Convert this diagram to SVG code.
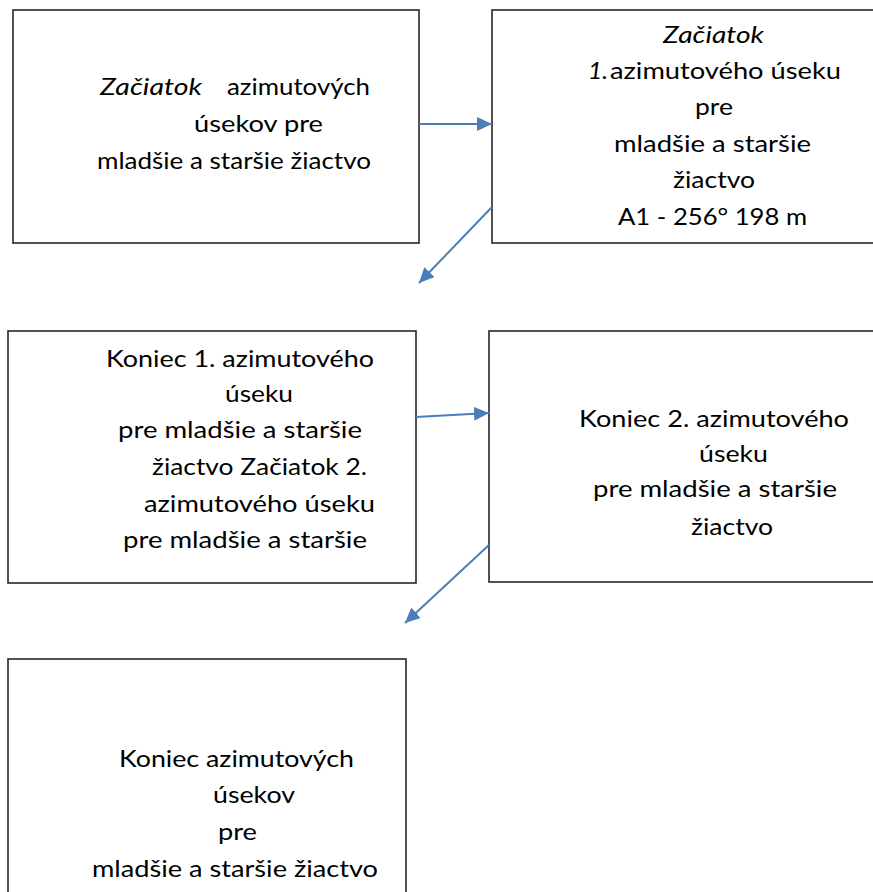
<svg xmlns="http://www.w3.org/2000/svg" width="873" height="892" viewBox="0 0 873 892">
<style>
.box{fill:#fff;stroke:#262626;stroke-width:1.6}
.t{font-family:Lato,"Open Sans","Liberation Sans",sans-serif;font-size:22.5px;fill:#000}
.i{font-style:italic}
.c{fill:none;stroke:#4a7ebb;stroke-width:2}
</style>
<defs>
<marker id="ah" markerUnits="userSpaceOnUse" markerWidth="16" markerHeight="14" refX="15" refY="7" orient="auto">
<path d="M0,0 L15,7 L0,14 Z" fill="#4a7ebb"/>
</marker>
</defs>
<rect width="873" height="892" fill="#fff"/>
<g id="n1">
<rect class="box" x="13" y="10" width="406" height="233"/>
<text class="t" y="95"><tspan class="i" x="100" textLength="102" lengthAdjust="spacingAndGlyphs">Začiatok</tspan><tspan x="227" textLength="143" lengthAdjust="spacingAndGlyphs">azimutových</tspan></text>
<text class="t" x="194" y="132" textLength="129" lengthAdjust="spacingAndGlyphs">úsekov pre</text>
<text class="t" x="97" y="169" textLength="274" lengthAdjust="spacingAndGlyphs">mladšie a staršie žiactvo</text>
</g>
<g id="n2">
<rect class="box" x="492" y="10" width="400" height="233"/>
<text class="t i" x="663" y="43" textLength="101" lengthAdjust="spacingAndGlyphs">Začiatok</text>
<text class="t" y="79"><tspan class="i" x="588" textLength="20" lengthAdjust="spacingAndGlyphs">1.</tspan><tspan x="610" textLength="231" lengthAdjust="spacingAndGlyphs">azimutového úseku</tspan></text>
<text class="t" x="695" y="115" textLength="38" lengthAdjust="spacingAndGlyphs">pre</text>
<text class="t" x="614" y="152" textLength="197" lengthAdjust="spacingAndGlyphs">mladšie a staršie</text>
<text class="t" x="673" y="188" textLength="82" lengthAdjust="spacingAndGlyphs">žiactvo</text>
<text class="t" x="618" y="225" textLength="189" lengthAdjust="spacingAndGlyphs">A1 - 256° 198 m</text>
</g>
<g id="n3">
<rect class="box" x="8" y="331" width="408" height="252"/>
<text class="t" x="106" y="367" textLength="268" lengthAdjust="spacingAndGlyphs">Koniec 1. azimutového</text>
<text class="t" x="225" y="402" textLength="68" lengthAdjust="spacingAndGlyphs">úseku</text>
<text class="t" x="118" y="438" textLength="244" lengthAdjust="spacingAndGlyphs">pre mladšie a staršie</text>
<text class="t" x="152" y="475" textLength="215" lengthAdjust="spacingAndGlyphs">žiactvo Začiatok 2.</text>
<text class="t" x="144" y="512" textLength="231" lengthAdjust="spacingAndGlyphs">azimutového úseku</text>
<text class="t" x="123" y="548" textLength="244" lengthAdjust="spacingAndGlyphs">pre mladšie a staršie</text>
</g>
<g id="n4">
<rect class="box" x="489" y="331" width="400" height="251"/>
<text class="t" x="579" y="427" textLength="270" lengthAdjust="spacingAndGlyphs">Koniec 2. azimutového</text>
<text class="t" x="699" y="462" textLength="69" lengthAdjust="spacingAndGlyphs">úseku</text>
<text class="t" x="593" y="497" textLength="244" lengthAdjust="spacingAndGlyphs">pre mladšie a staršie</text>
<text class="t" x="691" y="535" textLength="82" lengthAdjust="spacingAndGlyphs">žiactvo</text>
</g>
<g id="n5">
<rect class="box" x="8" y="659" width="398" height="250"/>
<text class="t" x="119" y="767" textLength="235" lengthAdjust="spacingAndGlyphs">Koniec azimutových</text>
<text class="t" x="213" y="803" textLength="82" lengthAdjust="spacingAndGlyphs">úsekov</text>
<text class="t" x="218" y="840" textLength="39" lengthAdjust="spacingAndGlyphs">pre</text>
<text class="t" x="92" y="877" textLength="286" lengthAdjust="spacingAndGlyphs">mladšie a staršie žiactvo</text>
</g>
<g id="connectors">
<line class="c" x1="419" y1="124" x2="492" y2="124" marker-end="url(#ah)"/>
<line class="c" x1="492" y1="207" x2="419" y2="283" marker-end="url(#ah)"/>
<line class="c" x1="416" y1="417" x2="489" y2="413" marker-end="url(#ah)"/>
<line class="c" x1="489" y1="545" x2="405" y2="623" marker-end="url(#ah)"/>
</g>
</svg>
